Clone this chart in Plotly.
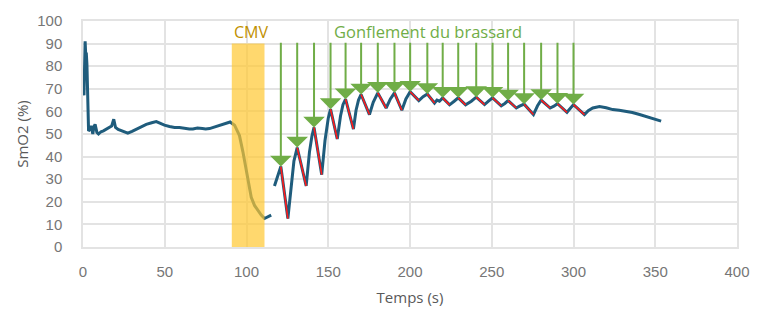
import plotly.graph_objects as go

# ---- data ----
pre_t = [0, 0.6, 1.3, 1.7, 2.0, 2.4, 3.0, 3.4, 4.2, 5.0, 6.0, 6.6, 7.4, 8.0, 8.5, 9.5, 11.0, 12.5,
         14.0, 16.2, 17.5, 18.8, 19.9, 21.5, 23.4, 25.5, 27.4, 30.0, 32.5, 35.0, 38.7, 42.0, 44.8,
         47.0, 49.8, 52.9, 56.0, 59.0, 62.0, 65.0, 67.2, 70.0, 73.0, 75.0, 77.4, 80.0, 83.5, 86.5,
         88.0, 90.0, 92.7, 95.7, 97.8, 99.8, 101.5, 102.9, 104.9, 107.0, 109.0, 111.0, 113.0, 115.1,
         116.0, 117.1, 119.2, 120.2]
pre_v = [68.7, 67.2, 91.0, 84.5, 86.0, 81.0, 65.0, 51.4, 52.0, 53.6, 50.0, 53.0, 54.3, 51.0, 50.7,
         50.0, 51.0, 51.4, 52.0, 52.9, 53.5, 56.5, 52.9, 52.0, 51.4, 50.8, 50.4, 51.2, 52.2, 53.2,
         54.3, 55.0, 55.5, 54.8, 53.9, 53.3, 52.9, 52.9, 52.4, 52.2, 52.2, 52.6, 52.4, 52.2, 52.4,
         53.0, 53.9, 54.3, 54.8, 55.3, 53.9, 49.3, 42.1, 33.5, 27.0, 22.0, 18.4, 16.0, 14.1, 12.6,
         13.4, 14.1, None, 27.0, 31.3, 34.0]

# cuff inflation peaks (arrow tips) and following troughs
peak_t = [121, 131, 141.3, 151.4, 160.6, 170.1, 180.3, 190.5, 200.1, 210.6, 220, 229.5, 240.5,
          250.5, 260, 269.8, 280.2, 290.2, 300]
peak_v = [35.6, 44.0, 52.9, 61.0, 65.4, 67.5, 68.2, 68.2, 68.7, 67.7, 66.0, 66.0, 66.3, 66.0,
          64.8, 63.2, 65.0, 63.4, 63.0]
trough_t = [125.3, 136.5, 146, 155.5, 165.4, 175.2, 185.4, 195, 205.4, 215, 224.2, 234, 245.6,
            255.8, 265, 275.5, 285.7, 296, 306.7]
trough_v = [12.6, 27.0, 32.0, 47.8, 52.2, 58.6, 61.5, 60.5, 64.8, 63.7, 62.9, 62.9, 63.0, 62.5,
            61.5, 58.6, 61.5, 59.6, 58.6]

# points on the rising parts between trough and next peak
rise_t = [127, 129, 138.5, 140, 148, 150, 157.5, 159, 167, 168.5, 177.5, 188, 197.5, 208, 216.5,
          218, 227, 237.5, 248, 258, 267, 278, 288, 298]
rise_v = [25.0, 38.0, 42.0, 49.0, 47.0, 57.0, 58.0, 63.0, 60.5, 65.0, 64.0, 65.5, 65.5, 66.5,
          65.0, 64.5, 64.5, 64.5, 64.5, 63.5, 62.3, 62.5, 62.3, 61.5]

post_t = [309, 311.8, 315.9, 320, 324, 328, 332.2, 336, 340.4, 344, 348.5, 351, 353.6]
post_v = [60.3, 61.5, 62.2, 61.6, 60.8, 60.5, 60.0, 59.5, 58.6, 57.8, 56.8, 56.2, 55.7]

cmv_start, cmv_end, cmv_top = 91, 111, 90
arrow_top = 91
x_ticks = [0, 50, 100, 150, 200, 250, 300, 350, 400]
y_ticks = [0, 10, 20, 30, 40, 50, 60, 70, 80, 90, 100]

# ---- build full curve ----
pts = sorted(list(zip(pre_t, pre_v)) + list(zip(peak_t, peak_v)) + list(zip(trough_t, trough_v))
             + list(zip(rise_t, rise_v)) + list(zip(post_t, post_v)), key=lambda p: p[0])
curve_t = [p[0] for p in pts]
curve_v = [p[1] for p in pts]

red_t, red_v = [], []
for pt, pv, tt, tv in zip(peak_t, peak_v, trough_t, trough_v):
    red_t += [pt, tt, None]
    red_v += [pv, tv, None]

BLUE = "#1f5c7c"
RED = "#ff1a1a"
GREEN = "#70ad47"
GRID = "#e3e3e3"

fig = go.Figure()
fig.add_trace(go.Scatter(x=curve_t, y=curve_v, mode="lines",
                         line=dict(color=BLUE, width=3), connectgaps=False,
                         hoverinfo="skip", showlegend=False))
fig.add_trace(go.Scatter(x=red_t, y=red_v, mode="lines",
                         line=dict(color=RED, width=1.6), hoverinfo="skip", showlegend=False))

fig.add_shape(type="rect", xref="x", yref="y", x0=cmv_start, x1=cmv_end, y0=0, y1=cmv_top,
              fillcolor="rgba(255,199,48,0.7)", line=dict(width=0), layer="above")

annotations = []
for pt, pv in zip(peak_t, peak_v):
    annotations.append(dict(x=pt, y=pv, ax=pt, ay=arrow_top, xref="x", yref="y",
                            axref="x", ayref="y", text="", showarrow=True,
                            arrowhead=1, arrowsize=1.8, arrowwidth=2, arrowcolor=GREEN,
                            standoff=0, startstandoff=0))
annotations.append(dict(x=cmv_start, y=95.3, xref="x", yref="y", text="CMV", showarrow=False,
                        xanchor="left", yanchor="middle",
                        font=dict(family="Open Sans", size=16, color="#bf9000")))
annotations.append(dict(x=152.4, y=95.3, xref="x", yref="y", text="Gonflement du brassard",
                        showarrow=False, xanchor="left", yanchor="middle",
                        font=dict(family="Open Sans", size=16.5, color=GREEN)))

fig.update_layout(
    width=762, height=316, autosize=False,
    margin=dict(l=83, r=25, t=19, b=65),
    paper_bgcolor="white", plot_bgcolor="white",
    annotations=annotations,
    showlegend=False,
)
fig.update_xaxes(range=[0, 400], tickvals=x_ticks, showgrid=True, gridcolor=GRID, gridwidth=1.5,
                 zeroline=False, showline=True, linecolor=GRID, linewidth=1.5, mirror=True,
                 ticks="", ticklabelstandoff=10,
                 tickfont=dict(family="Liberation Sans", size=15, color="#767676"),
                 title=dict(text="Temps (s)", standoff=14,
                            font=dict(family="Open Sans", size=15, color="#595959")))
fig.update_yaxes(range=[0, 100], tickvals=y_ticks, showgrid=True, gridcolor=GRID, gridwidth=1.5,
                 zeroline=False, showline=True, linecolor=GRID, linewidth=1.5, mirror=True,
                 ticks="", ticklabelstandoff=16,
                 tickfont=dict(family="Liberation Sans", size=15, color="#767676"),
                 title=dict(text="SmO2 (%)", standoff=5,
                            font=dict(family="Open Sans", size=15, color="#595959")))

fig.write_html("out.html")
